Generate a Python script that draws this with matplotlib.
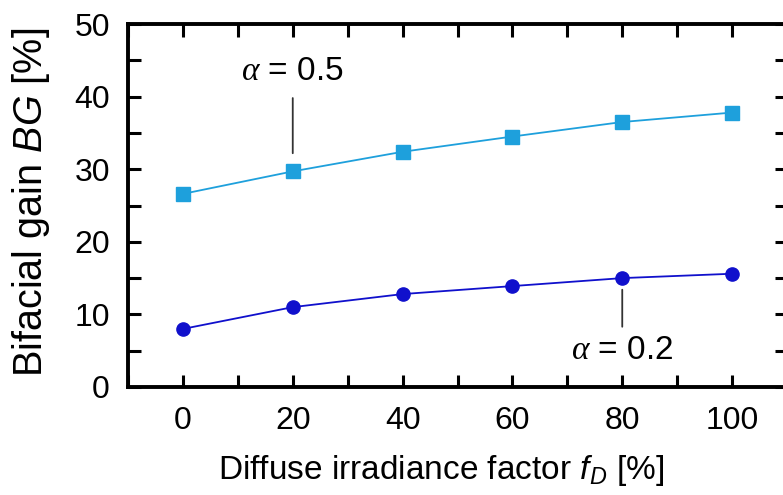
import matplotlib
matplotlib.use("Agg")
import matplotlib.pyplot as plt
from matplotlib.ticker import MultipleLocator

plt.rcParams['font.family'] = ['Liberation Sans', 'DejaVu Sans']
plt.rcParams['mathtext.fontset'] = 'custom'
plt.rcParams['mathtext.rm'] = 'Liberation Sans'
plt.rcParams['mathtext.sf'] = 'Liberation Sans:italic'
plt.rcParams['mathtext.it'] = 'Liberation Serif:italic'

fD = [0, 20, 40, 60, 80, 100]
bg_a05 = [26.6, 29.7, 32.4, 34.5, 36.5, 37.8]
bg_a02 = [8.0, 11.0, 12.8, 13.9, 15.0, 15.6]
xticks = [0, 20, 40, 60, 80, 100]
yticks = [0, 10, 20, 30, 40, 50]

W, H = 783, 495
fig = plt.figure(figsize=(W/100, H/100), dpi=100)
left, right, top, bottom = 128, 787, 24, 387
ax = fig.add_axes([left/W, 1-bottom/H, (right-left)/W, (bottom-top)/H])

c05 = '#1ea0dc'
c02 = '#1010cc'
ax.plot(fD, bg_a05, '-', color=c05, lw=1.3, marker='s', ms=10, mec=c05, mfc=c05)
ax.plot(fD, bg_a02, '-', color=c02, lw=1.3, marker='o', ms=9.5, mec=c02, mfc=c02)

ax.set_xlim(-10, 110)
ax.set_ylim(0, 50)
ax.set_xticks(xticks)
ax.set_yticks(yticks)
ax.xaxis.set_minor_locator(MultipleLocator(10))
ax.yaxis.set_minor_locator(MultipleLocator(5))
for s in ax.spines.values():
    s.set_linewidth(2.8)
ax.tick_params(which='both', direction='in', length=9, width=2.2,
               top=True, right=True, labelsize=23)
ax.tick_params(axis='x', which='major', pad=14)
ax.tick_params(axis='y', which='major', pad=13)

ax.set_xlabel(r'Diffuse irradiance factor $\mathsf{f_D}$ [%]', fontsize=24, labelpad=12)
ax.xaxis.label.set_x(0.475)
ax.set_ylabel(r'Bifacial gain $\mathsf{BG}$ [%]', fontsize=28.5, labelpad=16)
ax.yaxis.label.set_y(0.51)

lead = dict(arrowstyle='-', color='#333333', lw=1.3, shrinkA=0, shrinkB=0)
ax.annotate('', xy=(20, 32.2), xytext=(20, 39.8), arrowprops=lead)
ax.text(20, 43.4, r'$\alpha$ = 0.5', ha='center', va='center', fontsize=24)
ax.annotate('', xy=(80, 13.4), xytext=(80, 8.3), arrowprops=lead)
ax.text(80, 5.0, r'$\alpha$ = 0.2', ha='center', va='center', fontsize=24)

fig.savefig('out.png', dpi=100)
